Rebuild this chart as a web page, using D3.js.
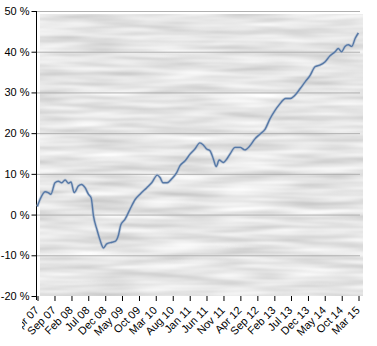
<!DOCTYPE html>
<html>
<head>
<meta charset="utf-8">
<script src="https://cdn.jsdelivr.net/npm/d3@7"></script>
<style>
  html, body { margin: 0; padding: 0; background: #ffffff; }
  svg { display: block; }
  text { font-family: "Liberation Sans", Arial, sans-serif; font-size: 11px; fill: #000; }
</style>
</head>
<body>
<script>
// performance series, %
const dates = [
  "2007-04-04", "2007-04-28", "2007-06-13", "2007-07-10", "2007-08-04", "2007-09-10",
  "2007-10-10", "2007-11-10", "2007-12-10", "2008-01-10", "2008-02-01", "2008-03-01",
  "2008-04-07", "2008-05-07", "2008-06-07", "2008-07-07", "2008-08-01", "2008-08-22",
  "2008-09-22", "2008-10-19", "2008-11-19", "2008-12-19", "2009-02-04", "2009-03-04",
  "2009-04-04", "2009-04-25", "2009-06-01", "2009-07-15", "2009-09-01", "2009-10-15",
  "2009-12-15", "2010-01-28", "2010-03-19", "2010-04-13", "2010-05-10", "2010-06-15",
  "2010-07-28", "2010-09-10", "2010-10-10", "2010-11-25", "2011-01-10", "2011-02-21",
  "2011-04-07", "2011-05-07", "2011-06-07", "2011-07-07", "2011-08-07", "2011-09-01",
  "2011-09-28", "2011-11-04", "2011-12-04", "2012-01-04", "2012-02-18", "2012-04-04",
  "2012-05-15", "2012-07-01", "2012-08-15", "2012-10-01", "2012-11-15", "2012-12-28",
  "2013-02-12", "2013-03-22", "2013-05-19", "2013-06-28", "2013-08-10", "2013-09-25",
  "2013-11-10", "2013-12-25", "2014-02-07", "2014-03-22", "2014-05-07", "2014-06-22",
  "2014-08-07", "2014-09-04", "2014-10-04", "2014-11-04", "2014-12-04", "2015-01-04",
  "2015-02-04", "2015-03-04"
];
const values = [
  2.0, 3.7, 5.6, 5.4, 5.0, 7.8,
  8.2, 7.8, 8.5, 7.7, 8.0, 5.4,
  7.0, 7.4, 6.6, 5.0, 4.1, -0.4,
  -3.7, -6.2, -8.2, -7.2, -6.8, -6.6,
  -5.0, -2.5, -1.2, 1.2, 3.7, 5.0,
  6.6, 7.8, 9.7, 9.1, 7.8, 7.8,
  8.8, 10.3, 12.0, 13.2, 14.9, 16.1,
  17.6, 17.1, 16.1, 15.7, 13.6, 11.8,
  13.4, 12.8, 13.6, 14.9, 16.5, 16.5,
  15.9, 16.9, 18.6, 19.8, 21.0, 23.5,
  25.6, 27.0, 28.5, 28.5, 29.3, 30.9,
  32.6, 34.2, 36.3, 36.7, 37.5, 39.0,
  40.0, 40.8, 40.0, 41.3, 41.7, 41.3,
  43.3, 44.6
];
const xTickLabels = [
  "Apr 07", "Sep 07", "Feb 08", "Jul 08", "Dec 08", "May 09", "Oct 09", "Mar 10",
  "Aug 10", "Jan 11", "Jun 11", "Nov 11", "Apr 12", "Sep 12", "Feb 13", "Jul 13",
  "Dec 13", "May 14", "Oct 14", "Mar 15"
];
const yTicks = [-20, -10, 0, 10, 20, 30, 40, 50];

const width = 377, height = 346;
const plot = { left: 36, right: 358, top: 11, bottom: 296 };

const parseDate = d3.timeParse("%Y-%m-%d");
const parseTick = d3.timeParse("%b %y");
const data = dates.map((d, i) => ({ date: parseDate(d), value: values[i] }));
const tickDates = xTickLabels.map(t => parseTick(t));

const x = d3.scaleTime()
  .domain([tickDates[0], tickDates[tickDates.length - 1]])
  .range([37, plot.right]);

const y = d3.scaleLinear()
  .domain([-20, 50])
  .range([plot.bottom, plot.top]);

const svg = d3.select("body").append("svg")
  .attr("width", width)
  .attr("height", height);

// streaky grey background
const defs = svg.append("defs");
const filt = defs.append("filter")
  .attr("id", "streaks")
  .attr("x", 0).attr("y", 0).attr("width", 1).attr("height", 1);
filt.append("feTurbulence")
  .attr("type", "fractalNoise")
  .attr("baseFrequency", "0.014 0.14")
  .attr("numOctaves", 2)
  .attr("seed", 7);
filt.append("feColorMatrix")
  .attr("type", "matrix")
  .attr("values", "0.55 0 0 0 0.51  0.55 0 0 0 0.51  0.55 0 0 0 0.51  0 0 0 0 1");
// the first x label is cut off on its left side
defs.append("clipPath").attr("id", "labelclip")
  .append("rect").attr("x", 22).attr("y", -5).attr("width", width).attr("height", 60);

svg.append("rect")
  .attr("x", 40).attr("y", 14)
  .attr("width", 323).attr("height", plot.bottom - 14)
  .attr("fill", "#c8c8c8")
  .attr("filter", "url(#streaks)");

// gridlines
svg.append("g")
  .selectAll("line")
  .data(yTicks.filter(t => t > -20))
  .join("line")
  .attr("x1", plot.left).attr("x2", 360)
  .attr("y1", d => y(d) + 0.5).attr("y2", d => y(d) + 0.5)
  .attr("stroke", "#b0b0b0")
  .attr("stroke-width", 1);

// y axis
const yAxis = svg.append("g")
  .attr("transform", `translate(${plot.left + 0.5},0)`)
  .call(d3.axisLeft(y).tickValues(yTicks).tickSize(5).tickPadding(2).tickFormat(d => d + " %"));
yAxis.select(".domain").attr("d", `M0,${plot.top}V${plot.bottom + 4}`).attr("stroke", "#000");
yAxis.selectAll("text").style("font-size", "11px").attr("font-family", null);

// x axis
const xAxis = svg.append("g")
  .attr("transform", `translate(0,${plot.bottom})`)
  .call(d3.axisBottom(x).tickValues(tickDates).tickSize(5).tickFormat((d, i) => xTickLabels[i]));
xAxis.select(".domain").remove();
xAxis.selectAll(".tick line").attr("transform", "translate(0.5,0)");
xAxis.attr("clip-path", "url(#labelclip)");
xAxis.selectAll("text")
  .attr("font-family", null)
  .style("font-size", "11px")
  .attr("text-anchor", "end")
  .attr("y", 0).attr("dy", null)
  .attr("transform", "translate(2,15) rotate(-45)");

// line
const line = d3.line()
  .x(d => x(d.date))
  .y(d => y(d.value))
  .curve(d3.curveMonotoneX);

svg.append("path")
  .datum(data)
  .attr("fill", "none")
  .attr("stroke", "#a9b8cc")
  .attr("stroke-width", 3)
  .attr("stroke-opacity", 0.6)
  .attr("d", line);
svg.append("path")
  .datum(data)
  .attr("fill", "none")
  .attr("stroke", "#5678a6")
  .attr("stroke-width", 1.4)
  .attr("d", line);
</script>
</body>
</html>
